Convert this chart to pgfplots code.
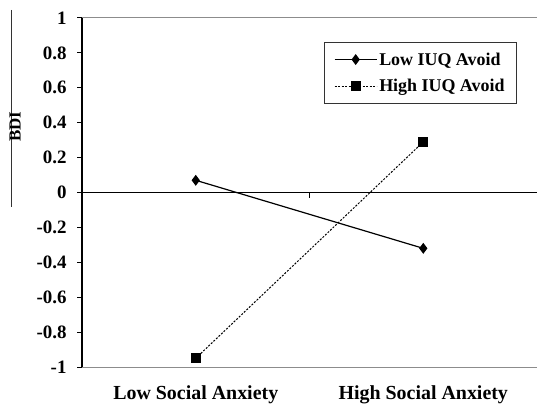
\documentclass[border=0pt]{standalone}
\usepackage{fontspec}
\setmainfont{Liberation Serif}
\usepackage{pgfplots}
\pgfplotsset{compat=1.18}
\begin{document}
\begin{tikzpicture}[x=1bp,y=1bp]
\useasboundingbox (0,0) rectangle (537,403);
\draw[line width=0.8bp, black!80] (11,393) -- (11,196);
\begin{axis}[
  at={(82bp,36bp)}, anchor=south west,
  scale only axis, width=455bp, height=349bp,
  xmin=0, xmax=2, ymin=-1, ymax=1,
  axis x line=bottom, axis y line=left,
  axis line style={-},
  x axis line style={black!45, line width=1bp},
  y axis line style={black, line width=1.2bp},
  xtick={0.5,1.5},
  xticklabels={Low Social Anxiety, High Social Anxiety},
  x tick style={draw=none},
  xticklabel style={font=\fontsize{20}{24}\selectfont\bfseries, anchor=north, yshift=-10bp},
  ytick={-1,-0.8,-0.6,-0.4,-0.2,0,0.2,0.4,0.6,0.8,1},
  yticklabels={-1,-0.8,-0.6,-0.4,-0.2,0,0.2,0.4,0.6,0.8,1},
  yticklabel style={font=\fontsize{19}{22}\selectfont\bfseries, xshift=-7bp},
  y tick style={black, line width=1bp},
  major tick length=5bp,
  tick align=outside,
  ylabel={BDI},
  ylabel style={at={(rel axis cs:-0.147,0.688)}, anchor=center, font=\fontsize{17}{20}\selectfont\bfseries},
  legend style={at={(rel axis cs:0.956,0.931)}, anchor=north east,
    draw=black!80, line width=1bp, font=\fontsize{18}{21}\selectfont\bfseries,
    inner xsep=10bp, inner ysep=8bp, row sep=9bp,
    nodes={inner sep=2bp}},
  legend cell align=left,
  legend image code/.code={\draw[mark repeat=2,mark phase=2,#1] plot coordinates {(0bp,0bp)(21bp,0bp)(42bp,0bp)};},
  clip=false,
]
\draw[black, line width=1.2bp] (axis cs:0,0) -- (axis cs:2,0);
\draw[black, line width=1bp] (axis cs:1,0) -- ([yshift=-5bp]axis cs:1,0);
\draw[black!45, line width=1bp] (axis cs:0,1) -- (axis cs:2,1);
\addplot[black, line width=1.2bp, mark=diamond*, mark size=4.5bp] coordinates {(0.5,0.07) (1.5,-0.32)};
\addlegendentry{Low IUQ Avoid}
\addplot[black, line width=1bp, dash pattern=on 2bp off 1.5bp, mark=square*, mark size=4.5bp, mark options={solid}] coordinates {(0.5,-0.95) (1.5,0.29)};
\addlegendentry{High IUQ Avoid}
\end{axis}
\end{tikzpicture}
\end{document}
